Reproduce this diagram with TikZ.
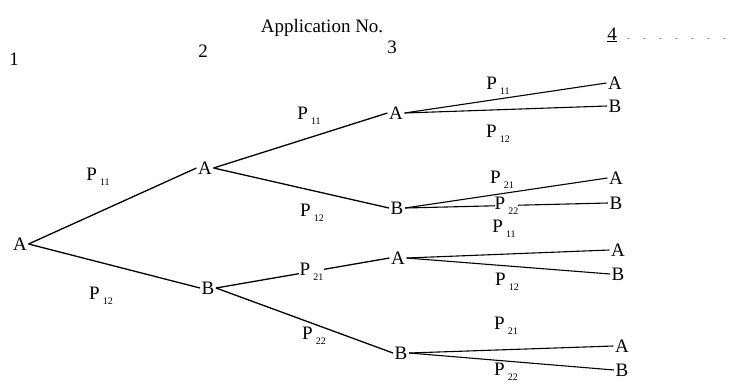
\documentclass[tikz,border=0pt]{standalone}
\usepackage{fontspec}
\setmainfont{Liberation Serif}
\begin{document}
\begin{tikzpicture}[x=1pt,y=-1pt,
  st/.style={inner sep=1.5pt, font=\fontsize{19}{19}\selectfont},
  lab/.style={inner sep=1pt, font=\fontsize{19}{19}\selectfont},
  edge/.style={line width=1.3pt},
  fine/.style={line width=1.1pt}]
\newcommand{\pp}[1]{P\,\raisebox{-0.55ex}{\fontsize{10}{10}\selectfont #1}}
\useasboundingbox (0,0) rectangle (741,383);
% headings
\node[lab] (title) at (322,28) {Application No.};
\node[lab] (h1) at (14,59) {1};
\node[lab] (h2) at (203,51) {2};
\node[lab] (h3) at (392,47) {3};
\node[lab] (h4) at (612,35) {\underline{4}};
\coordinate (dotend) at (728,38);
\draw[gray, line width=1pt, dash pattern=on 1pt off 15pt, line cap=round] ([xshift=10pt]h4.east |- dotend) -- (dotend);
% level nodes
\node[st] (a1) at (20,244) {A};
\node[st] (a2) at (205,168) {A};
\node[st] (b2) at (208,288) {B};
\node[st] (a3) at (396,113) {A};
\node[st] (b3) at (397,208) {B};
\node[st] (c3) at (398,258) {A};
\node[st] (d3) at (401,353) {B};
\node[st] (a4a) at (615,83) {A};
\node[st] (a4b) at (615,106) {B};
\node[st] (b4a) at (616,178) {A};
\node[st] (b4b) at (616,203) {B};
\node[st] (c4a) at (618,250) {A};
\node[st] (c4b) at (618,274) {B};
\node[st] (d4a) at (622,346) {A};
\node[st] (d4b) at (622,370) {B};
% edges level 1-2
\draw[edge] (a1.east) -- (a2.west);
\draw[edge] (a1.east) -- (b2.west);
\node[lab] (l1) at (98,177) {\pp{11}};
\node[lab] (l2) at (101,296) {\pp{12}};
% level 2-3
\draw[edge] (a2.east) -- (a3.west);
\draw[edge] (a2.east) -- (b3.west);
\draw[edge] (b2.east) -- node[lab, fill=white, pos=0.55] (l5) {\pp{21}} (c3.west);
\draw[edge] (b2.east) -- (d3.west);
\node[lab] (l3) at (309,116) {\pp{11}};
\node[lab] (l4) at (312,213) {\pp{12}};
\node[lab] (l6) at (314,336) {\pp{22}};
% level 3-4
\draw[fine] (a3.east) -- (a4a.west);
\draw[fine] (a3.east) -- (a4b.west);
\node[lab] (m1) at (498,86) {\pp{11}};
\node[lab] (m2) at (498,134) {\pp{12}};
\draw[fine] (b3.east) -- (b4a.west);
\draw[fine] (b3.east) -- node[lab, fill=white, pos=0.5, inner sep=0pt] (m4) {\pp{22}} (b4b.west);
\node[lab] (m3) at (502,180) {\pp{21}};
\draw[fine] (c3.east) -- (c4a.west);
\draw[fine] (c3.east) -- (c4b.west);
\node[lab] (m5) at (504,229) {\pp{11}};
\node[lab] (m6) at (507,282) {\pp{12}};
\draw[fine] (d3.east) -- (d4a.west);
\draw[fine] (d3.east) -- (d4b.west);
\node[lab] (m7) at (506,326) {\pp{21}};
\node[lab] (m8) at (506,372) {\pp{22}};
\end{tikzpicture}
\end{document}
